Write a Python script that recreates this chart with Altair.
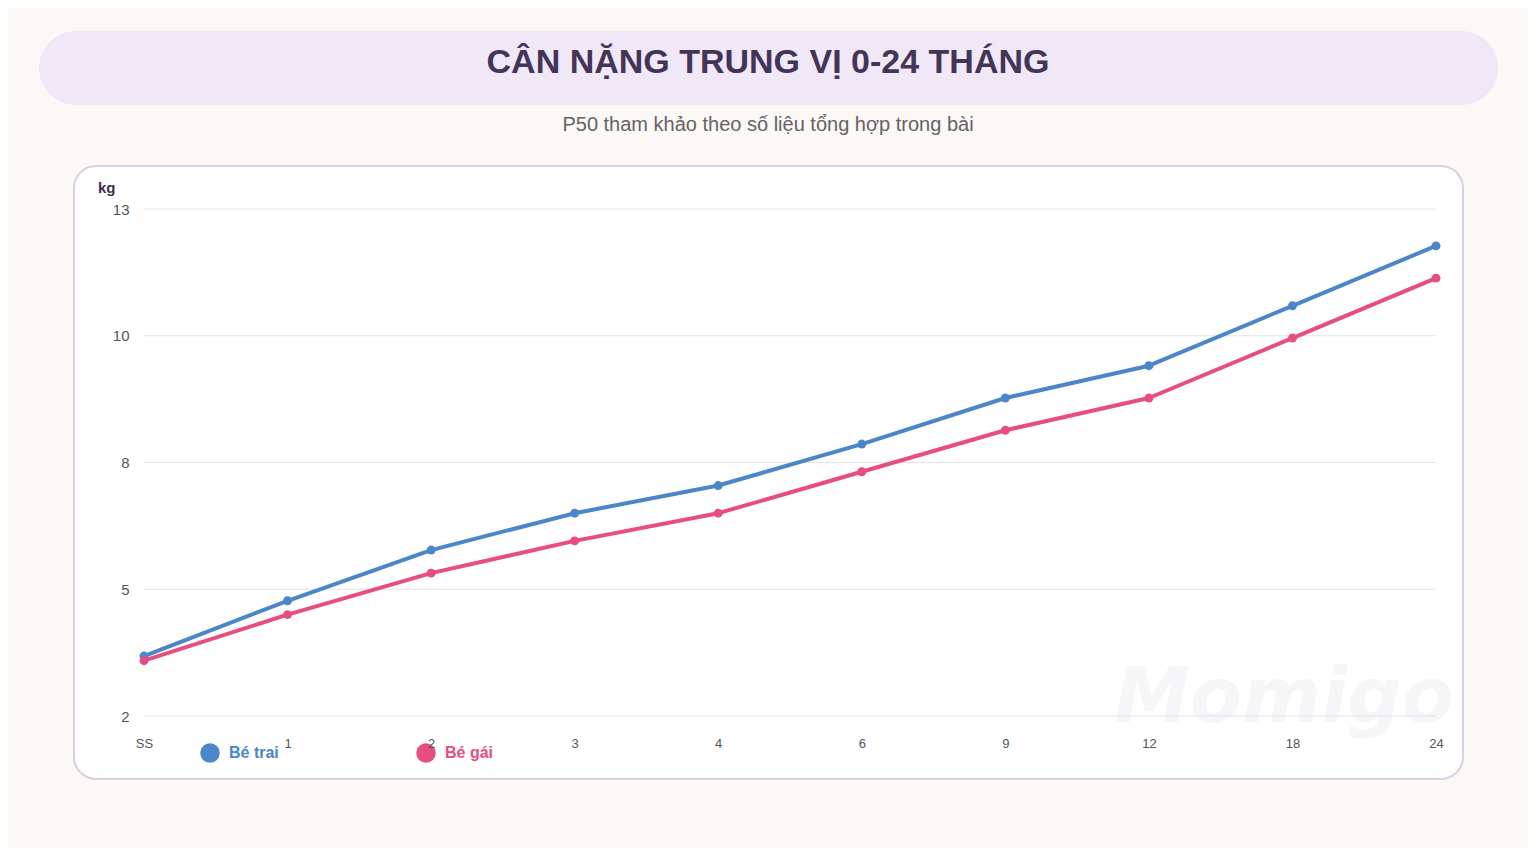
import altair as alt
import pandas as pd

months = ["SS", "1", "2", "3", "4", "6", "9", "12", "18", "24"]
boys = [3.3, 4.5, 5.6, 6.4, 7.0, 7.9, 8.9, 9.6, 10.9, 12.2]
girls = [3.2, 4.2, 5.1, 5.8, 6.4, 7.3, 8.2, 8.9, 10.2, 11.5]
series = ["Bé trai", "Bé gái"]
colors = ["#4a86c8", "#e84d82"]
y_ticks = [2, 4.75, 7.5, 10.25, 13]
title_text = "CÂN NẶNG TRUNG VỊ 0-24 THÁNG"
subtitle_text = "P50 tham khảo theo số liệu tổng hợp trong bài"
unit_text = "kg"
watermark = "Momigo"

rows = []
for i, (s, vals) in enumerate(zip(series, [boys, girls])):
    for m, v in zip(months, vals):
        rows.append({"month": m, "kg": v, "series": s, "series_order": i})
df = pd.DataFrame(rows)
grid_df = pd.DataFrame({"kg": y_ticks})

W, H = 1292, 507
FONT = "Liberation Sans"
one = pd.DataFrame({"a": [0]})

y_scale = alt.Scale(domain=[2, 13], nice=False, zero=False)

banner = alt.Chart(one).mark_rect(color="#f0e8f7", cornerRadius=37).encode(
    x=alt.value(-105), x2=alt.value(1354), y=alt.value(-178), y2=alt.value(-104)
)
title = alt.Chart(one).mark_text(
    text=title_text, font=FONT, fontSize=34, fontWeight="bold", color="#433557",
    align="center", baseline="middle"
).encode(x=alt.value(624), y=alt.value(-146))
subtitle = alt.Chart(one).mark_text(
    text=subtitle_text, font=FONT, fontSize=20, color="#666266",
    align="center", baseline="middle"
).encode(x=alt.value(624), y=alt.value(-84))
card = alt.Chart(one).mark_rect(
    fill="#ffffff", stroke="#d9d1e3", strokeWidth=2, cornerRadius=22
).encode(x=alt.value(-70), x2=alt.value(1319), y=alt.value(-43), y2=alt.value(570))
unit = alt.Chart(one).mark_text(
    text=unit_text, font=FONT, fontSize=15, fontWeight="bold", color="#3a3048",
    align="left", baseline="middle"
).encode(x=alt.value(-46), y=alt.value(-21))
wm = alt.Chart(one).mark_text(
    text=watermark, font="DejaVu Sans", fontSize=76, fontWeight="bold", fontStyle="italic",
    color="#f1eff4", opacity=0.6, align="center", baseline="middle"
).encode(x=alt.value(1140), y=alt.value(490))

grid = alt.Chart(grid_df).mark_rule(color="#e6e2ec", strokeWidth=1).encode(
    y=alt.Y("kg:Q", scale=y_scale), x=alt.value(0), x2=alt.value(W)
)

base = alt.Chart(df).encode(
    x=alt.X("month:O", sort=months, scale=alt.Scale(type="point", padding=0),
            axis=alt.Axis(title=None, labelAngle=0, domain=False, ticks=False,
                          labelFont=FONT, labelFontSize=13, labelColor="#555555",
                          labelPadding=21, grid=False, zindex=1)),
    y=alt.Y("kg:Q", scale=y_scale,
            axis=alt.Axis(title=None, values=y_ticks, domain=False, ticks=False,
                          labelExpr="format(round(datum.value), 'd')",
                          labelFont=FONT, labelFontSize=15, labelColor="#555555",
                          labelPadding=15, grid=False, zindex=1)),
    color=alt.Color("series:N", scale=alt.Scale(domain=series, range=colors), legend=None),
    order=alt.Order("series_order:Q"),
)

lines = base.mark_line(strokeWidth=4, strokeCap="round", strokeJoin="round")
points = base.mark_point(filled=True, size=80, opacity=1, shape="circle")

legend_layers = []
for s, c, px in zip(series, colors, [66, 282]):
    legend_layers.append(
        alt.Chart(one).mark_point(filled=True, size=380, opacity=1, shape="circle", color=c)
        .encode(x=alt.value(px), y=alt.value(544))
    )
    legend_layers.append(
        alt.Chart(one).mark_text(text=s, font=FONT, fontSize=16, fontWeight="bold", color=c,
                                 align="left", baseline="middle")
        .encode(x=alt.value(px + 19), y=alt.value(544))
    )

chart = alt.layer(
    banner, title, subtitle, card, unit, wm, grid, lines, points, *legend_layers
).properties(
    width=W, height=H,
    autosize=alt.AutoSizeParams(type="none"),
    padding={"left": 136, "top": 201, "right": 92, "bottom": 132},
    background="#fbf8f5",
).configure_view(stroke=None)

chart.save("out.html", embed_options={"renderer": "svg", "actions": False})
